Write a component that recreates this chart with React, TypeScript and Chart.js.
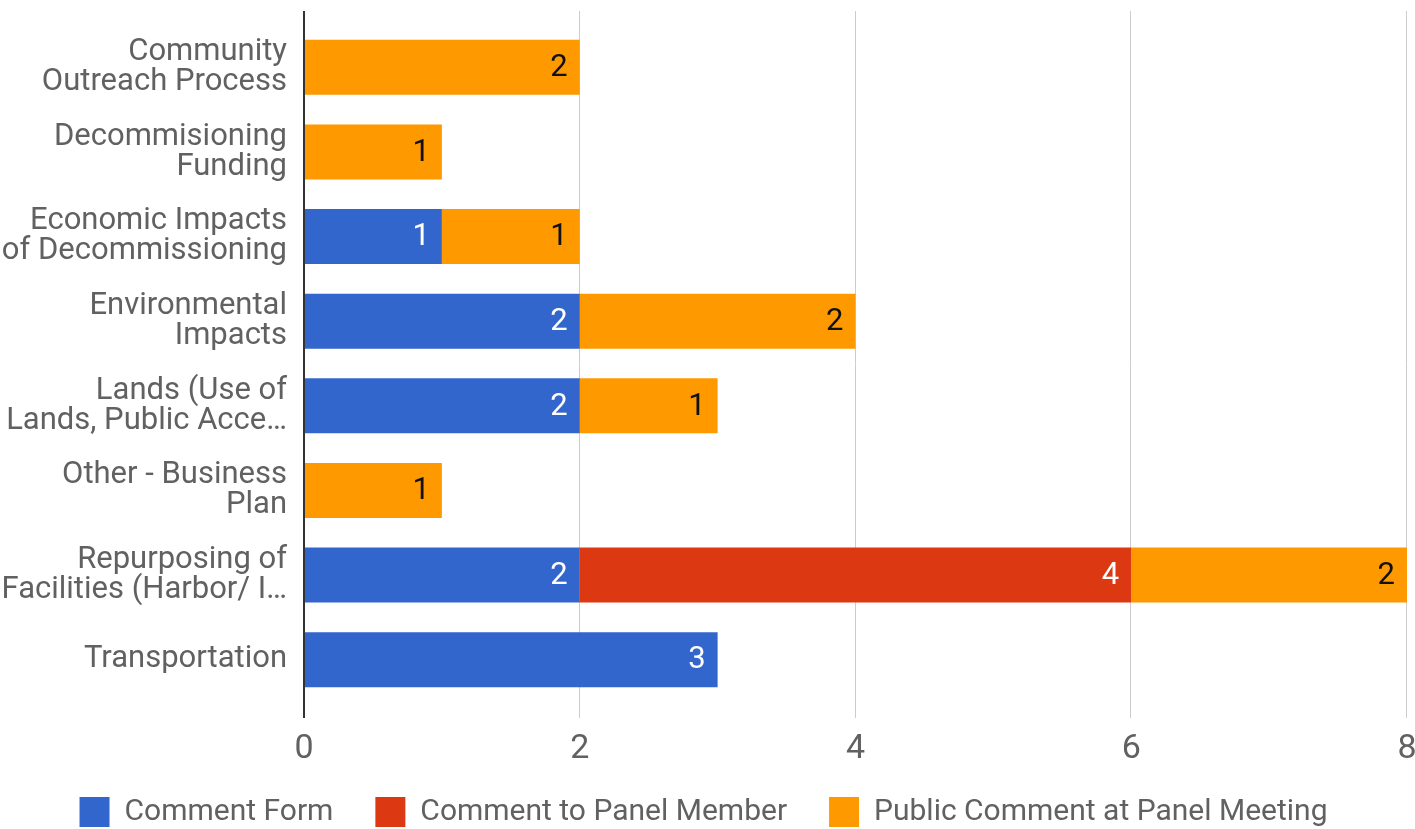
import React, { useEffect, useRef } from "react";
import { Chart, registerables } from "chart.js";

Chart.register(...registerables);

const categories: (string | string[])[] = [
  ["Community", "Outreach Process"],
  ["Decommisioning", "Funding"],
  ["Economic Impacts", "of Decommissioning"],
  ["Environmental", "Impacts"],
  ["Lands (Use of", "Lands, Public Acce…"],
  ["Other - Business", "Plan"],
  ["Repurposing of", "Facilities (Harbor/ I…"],
  "Transportation",
];

const commentForm = [0, 0, 1, 2, 2, 0, 2, 3];
const commentToPanelMember = [0, 0, 0, 0, 0, 0, 4, 0];
const publicCommentAtPanelMeeting = [2, 1, 1, 2, 1, 1, 2, 0];

const xTicks = [0, 2, 4, 6, 8];

const FONT = "Roboto";
const TEXT = "#616161";

const gridPlugin = {
  id: "extendedGrid",
  beforeDatasetsDraw(chart: any) {
    const { ctx, chartArea, scales } = chart;
    ctx.save();
    ctx.strokeStyle = "#cccccc";
    ctx.lineWidth = 1;
    xTicks.forEach((v) => {
      if (v === 0) return;
      const x = Math.round(scales.x.getPixelForValue(v)) - 0.5;
      ctx.beginPath();
      ctx.moveTo(x, chartArea.top - 14);
      ctx.lineTo(x, chartArea.bottom + 16);
      ctx.stroke();
    });
    ctx.restore();
  },
  afterDatasetsDraw(chart: any) {
    const { ctx, chartArea, scales } = chart;
    ctx.save();
    ctx.strokeStyle = "#333333";
    ctx.lineWidth = 2;
    const x = Math.round(scales.x.getPixelForValue(0));
    ctx.beginPath();
    ctx.moveTo(x, chartArea.top - 14);
    ctx.lineTo(x, chartArea.bottom + 16);
    ctx.stroke();

    // value labels
    ctx.font = `31px ${FONT}`;
    ctx.textAlign = "right";
    ctx.textBaseline = "middle";
    chart.data.datasets.forEach((ds: any, di: number) => {
      const meta = chart.getDatasetMeta(di);
      meta.data.forEach((el: any, i: number) => {
        const v = ds.data[i];
        if (!v) return;
        ctx.fillStyle = di === 2 ? "#111111" : "#ffffff";
        ctx.fillText(String(v), el.x - 12, el.y + 1);
      });
    });
    ctx.restore();
  },
};

export default function App() {
  const ref = useRef<HTMLCanvasElement>(null);

  useEffect(() => {
    if (!ref.current) return;
    const chart = new Chart(ref.current, {
      type: "bar",
      data: {
        labels: categories,
        datasets: [
          {
            label: "Comment Form",
            data: commentForm,
            backgroundColor: "#3366cc",
          },
          {
            label: "Comment to Panel Member",
            data: commentToPanelMember,
            backgroundColor: "#dc3912",
          },
          {
            label: "Public Comment at Panel Meeting",
            data: publicCommentAtPanelMeeting,
            backgroundColor: "#ff9900",
          },
        ],
      },
      options: {
        indexAxis: "y",
        animation: false,
        responsive: false,
        maintainAspectRatio: false,
        layout: { padding: { top: 25, right: 8, left: 0, bottom: 0 } },
        datasets: {
          bar: { categoryPercentage: 0.65, barPercentage: 1 },
        },
        scales: {
          x: {
            stacked: true,
            min: 0,
            max: 8,
            grid: { display: false, drawTicks: false },
            border: { display: false },
            afterBuildTicks: (scale: any) => {
              scale.ticks = xTicks.map((v) => ({ value: v }));
            },
            afterFit: (scale: any) => {
              scale.height = 53;
              scale.paddingLeft = 0;
              scale.paddingRight = 0;
              // let tick labels extend slightly past the axis box
              scale._computeLabelArea = () => null;
            },
            ticks: {
              padding: 27,
              color: TEXT,
              font: { family: FONT, size: 34 },
            },
          },
          y: {
            stacked: true,
            grid: { display: false, drawTicks: false },
            border: { display: false },
            afterFit: (scale: any) => {
              scale.width = 304;
              scale.paddingTop = 0;
              scale.paddingBottom = 0;
            },
            ticks: {
              padding: 17,
              color: TEXT,
              font: { family: FONT, size: 31, lineHeight: 0.97 },
            },
          },
        },
        plugins: {
          legend: {
            position: "bottom",
            labels: {
              boxWidth: 30,
              boxHeight: 30,
              padding: 42,
              color: TEXT,
              font: { family: FONT, size: 30 },
            },
          },
          tooltip: { enabled: false },
        },
      },
      plugins: [gridPlugin],
    });
    return () => chart.destroy();
  }, []);

  return (
    <div
      style={{
        position: "fixed",
        left: 0,
        top: 0,
        width: 1415,
        height: 829,
        overflow: "hidden",
        background: "#fff",
      }}
    >
      <canvas ref={ref} width={1415} height={837} style={{ display: "block" }} />
    </div>
  );
}
